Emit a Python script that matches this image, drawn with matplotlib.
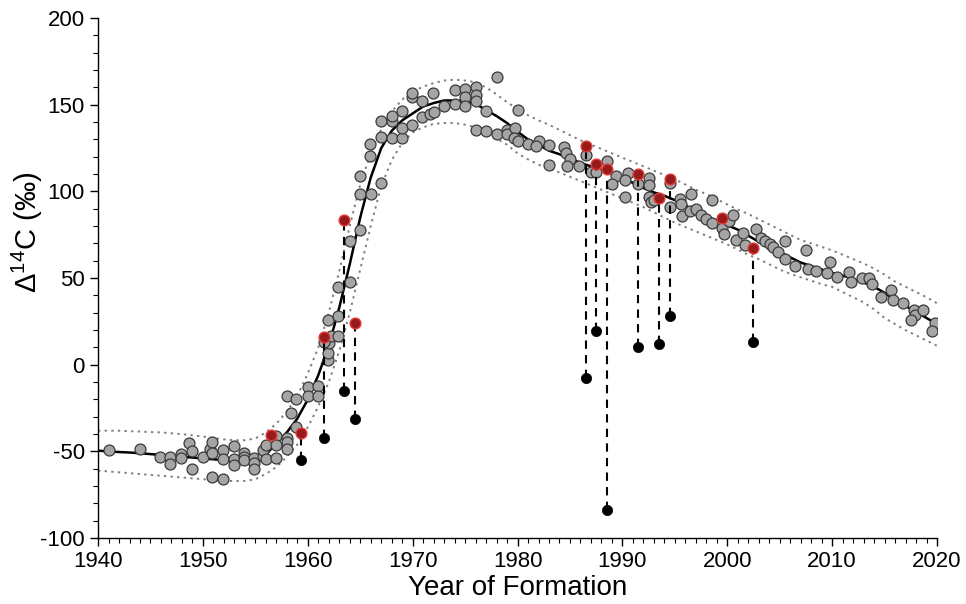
import numpy as np
import matplotlib.pyplot as plt
from matplotlib.ticker import MultipleLocator

plt.rcParams['font.family'] = ['Liberation Sans', 'DejaVu Sans']
plt.rcParams['mathtext.fontset'] = 'custom'
plt.rcParams['mathtext.rm'] = 'Liberation Sans'
plt.rcParams['mathtext.it'] = 'Liberation Sans:italic'
plt.rcParams['axes.unicode_minus'] = False

# fitted curve, one value per year 1940-2020
fit_years = list(range(1940, 2021))
fit_vals = [-49.5, -50, -50.3, -50.6, -51, -51.5, -52, -52.5, -53, -53.5,
            -54, -54.5, -55, -55.5, -56, -55.5, -52, -45, -39, -31,
            -20, -6, 11, 33, 58, 85, 108, 125, 135, 141,
            145, 149, 151, 152.5, 152.5, 152, 150.5, 147, 143.5, 139.5,
            134.5, 130, 127, 123.5, 121.5, 119, 116.5, 114.5, 112.5, 110,
            107.5, 105, 102, 99.5, 97.5, 95, 92, 88.5, 85.5, 83,
            80.5, 78, 74.5, 71, 68, 65, 62, 59, 57, 55,
            53, 51.5, 49.5, 47.5, 45, 41.5, 37.5, 34, 30.5, 27, 23.5]
upper_vals = [-38, -38, -38, -38.3, -38.5, -38.8, -39, -39.5, -40, -40.7,
              -41.4, -42.2, -43, -43.5, -43.5, -42.5, -39, -34, -27, -18,
              -5, 10, 30, 54, 80, 104, 122, 136, 146, 153,
              157.5, 160.5, 162.5, 164, 164.5, 164, 163, 160, 156, 151.5,
              147.5, 144, 141, 138.5, 135.5, 132.5, 129.5, 127, 124.5, 122,
              119.5, 117, 114.5, 112, 109.5, 107, 104, 101, 98.5, 95.5,
              92.5, 89.5, 87, 84, 81, 78, 75, 72, 70, 68,
              66, 63.5, 61, 58.5, 55.5, 52, 48, 45, 42, 39, 35.5]
lower_vals = [-61, -61.5, -62, -62.5, -63, -63.5, -64, -64.5, -65, -65.5,
              -66, -66.5, -67, -67, -67, -66, -63, -59, -53, -46,
              -36, -24, -10, 8, 30, 55, 80, 103, 118, 128,
              134, 137, 139, 139.5, 139.5, 138.5, 137, 134, 130.5, 127,
              122, 118.5, 115.5, 113, 111, 108.5, 106, 103.5, 101, 98.5,
              96, 93.5, 91, 88, 85, 82, 79.5, 77, 74.5, 72,
              69.5, 66.5, 63.5, 61, 58, 55, 52.5, 50.5, 48.5, 46.5,
              45, 42, 39, 36, 32, 27, 23.5, 20, 17, 14, 11]

# gray measurements
gray_x = [1941.0, 1944.0, 1945.9, 1946.9, 1946.9, 1947.9, 1947.9, 1948.7, 1949.0, 1949.0,
          1950.0, 1950.7, 1950.9, 1950.9, 1950.9, 1951.9, 1951.9, 1951.9, 1953.0, 1953.0,
          1953.0, 1953.9, 1953.9, 1953.9, 1954.9, 1954.9, 1954.9, 1955.7, 1955.7, 1956.0,
          1956.0, 1957.0, 1957.0, 1957.0, 1958.0, 1958.0, 1958.0, 1958.0, 1958.9, 1958.4,
          1958.9, 1960.0, 1960.0, 1961.0, 1961.0, 1961.9, 1961.9, 1962.0, 1962.2, 1962.9,
          1961.9, 1962.9, 1962.9, 1964.0, 1964.0, 1965.0, 1965.0, 1966.0, 1967.0, 1965.0,
          1965.9, 1965.9, 1967.0, 1967.0, 1968.0, 1968.0, 1968.0, 1969.0, 1969.0, 1969.0,
          1969.9, 1969.9, 1969.9, 1970.9, 1970.9, 1971.9, 1971.7, 1972.0, 1973.0, 1974.0,
          1974.0, 1975.0, 1975.0, 1975.0, 1976.0, 1976.0, 1976.0, 1978.0, 1977.0, 1976.0,
          1977.0, 1978.0, 1979.0, 1979.0, 1979.8, 1979.7, 1980.0, 1980.0, 1981.0, 1982.0,
          1981.8, 1983.0, 1983.0, 1984.4, 1984.6, 1985.0, 1984.7, 1985.9, 1986.5, 1987.0,
          1988.5, 1989.4, 1989.0, 1990.5, 1990.2, 1990.2, 1991.5, 1992.5, 1992.5, 1992.5,
          1992.7, 1993.0, 1994.5, 1994.5, 1995.5, 1995.6, 1995.7, 1996.5, 1996.4, 1997.0,
          1997.5, 1998.0, 1998.5, 1998.5, 1999.5, 1999.7, 2000.2, 2000.5, 2000.8, 2001.5,
          2001.7, 2002.7, 2003.2, 2003.6, 2004.1, 2004.4, 2004.8, 2005.5, 2005.5, 2006.5,
          2007.5, 2007.7, 2008.5, 2009.5, 2009.8, 2010.5, 2011.6, 2011.8, 2012.8, 2013.5,
          2013.8, 2014.7, 2015.6, 2015.8, 2016.8, 2017.8, 2017.9, 2017.5, 2018.7, 2019.8,
          2019.5, 1987.5, 1961.5]
gray_y = [-49, -48.6, -52.9, -52.9, -57, -51.7, -54, -45, -50, -60,
          -53, -48.6, -44.4, -50.6, -65, -49.4, -54.4, -66, -47, -54.4,
          -58, -50.6, -53, -55, -54, -56.7, -60, -52.5, -49, -46,
          -54.4, -41, -46, -54, -18, -42, -44.6, -48.6, -20, -28,
          -35.6, -13, -18, -12, -18, 2.5, 6.7, 12.5, 16.7, 16.7,
          26, 28.3, 45, 47.9, 71.7, 77.5, 98.3, 98.7, 105, 108.7,
          120.6, 127.5, 131.4, 140.6, 131, 140.6, 143.7, 131, 136.8, 146.7,
          138.3, 154.4, 156.7, 152.3, 143, 157, 144.8, 145.6, 149.4, 158.3,
          150.6, 159, 154.4, 149.4, 160, 155.8, 152.3, 166, 146.7, 135.6,
          134.6, 133.3, 135.6, 133, 136.8, 130.6, 147, 129, 127.5, 129,
          126, 126.7, 115.5, 125.6, 122, 118.6, 114.5, 114.8, 121, 111,
          117.5, 108.7, 104.4, 110.6, 106.7, 97, 104.4, 107.5, 103.7, 97,
          94, 95, 91.3, 104.8, 95.6, 93, 85.6, 98.7, 88.7, 89.8,
          86.4, 84.4, 81.7, 95, 78.8, 75.6, 82.7, 86.6, 72, 76,
          69, 78.2, 73, 71.7, 69.5, 68, 64.8, 71.7, 61.3, 57,
          66, 55, 54, 52.9, 59.4, 50.6, 53.7, 47.5, 50.2, 49.8,
          46.7, 39, 43.3, 37.5, 35.6, 31.7, 29, 25.6, 31.7, 24,
          19.4, 111, 13]

# red measurements and paired black measurements
red_x = [1956.5, 1959.4, 1961.5, 1963.45, 1964.5, 1986.5, 1987.5, 1988.5,
         1991.5, 1993.5, 1994.5, 1999.5, 2002.5]
red_y = [-40.6, -39.5, 16.3, 83.5, 24.4, 126.4, 115.6, 112.9,
         110.2, 96, 107, 84.8, 67.1]
black_x = [1959.4, 1961.5, 1963.45, 1964.5, 1986.5, 1987.5, 1988.5,
           1991.5, 1993.5, 1994.5, 2002.5]
black_y = [-55, -42, -15, -31, -7.7, 19.6, -84, 10, 12, 27.9, 13]
black_top = [-39.5, 16.3, 83.5, 24.4, 126.4, 115.6, 112.9, 110.2, 96, 107, 67.1]

fig = plt.figure(figsize=(9.66, 6.04), dpi=100)
ax = fig.add_axes([0.1015, 0.109, 0.8685, 0.861])

ax.plot(fit_years, upper_vals, color='#7f7f7f', lw=1.4, ls=(0, (1.2, 2.2)), zorder=1)
ax.plot(fit_years, lower_vals, color='#7f7f7f', lw=1.4, ls=(0, (1.2, 2.2)), zorder=1)
ax.plot(fit_years, fit_vals, color='black', lw=1.8, zorder=2)

ax.scatter(gray_x, gray_y, s=62, facecolor='#a5a5a5', edgecolor='#3a3a3a',
           linewidths=0.9, zorder=3)

ax.vlines(black_x, black_y, black_top, colors='black', lw=1.5,
          linestyles=(0, (4, 3)), zorder=4)
ax.scatter(red_x, red_y, s=60, facecolor='#981b1b', edgecolor='#e23a3a',
           linewidths=1.0, zorder=5)
ax.scatter(black_x, black_y, s=55, facecolor='black', edgecolor='black',
           linewidths=0.5, zorder=5)

ax.set_xlim(1940, 2020)
ax.set_ylim(-100, 200)
ax.xaxis.set_major_locator(MultipleLocator(10))
ax.xaxis.set_minor_locator(MultipleLocator(1))
ax.yaxis.set_major_locator(MultipleLocator(50))
ax.yaxis.set_minor_locator(MultipleLocator(10))
ax.spines['top'].set_visible(False)
ax.spines['right'].set_visible(False)
for s in ('left', 'bottom'):
    ax.spines[s].set_linewidth(1.0)
ax.tick_params(which='major', direction='out', length=6, width=1.0, labelsize=16)
ax.tick_params(which='minor', direction='out', length=3.5, width=0.8)

ax.set_xlabel('Year of Formation', fontsize=20, labelpad=2)
ax.set_ylabel('Δ$^{14}$C (‰)', fontsize=21)
ax.yaxis.set_label_coords(-0.063, 0.587)

fig.savefig('out.png', dpi=100)
